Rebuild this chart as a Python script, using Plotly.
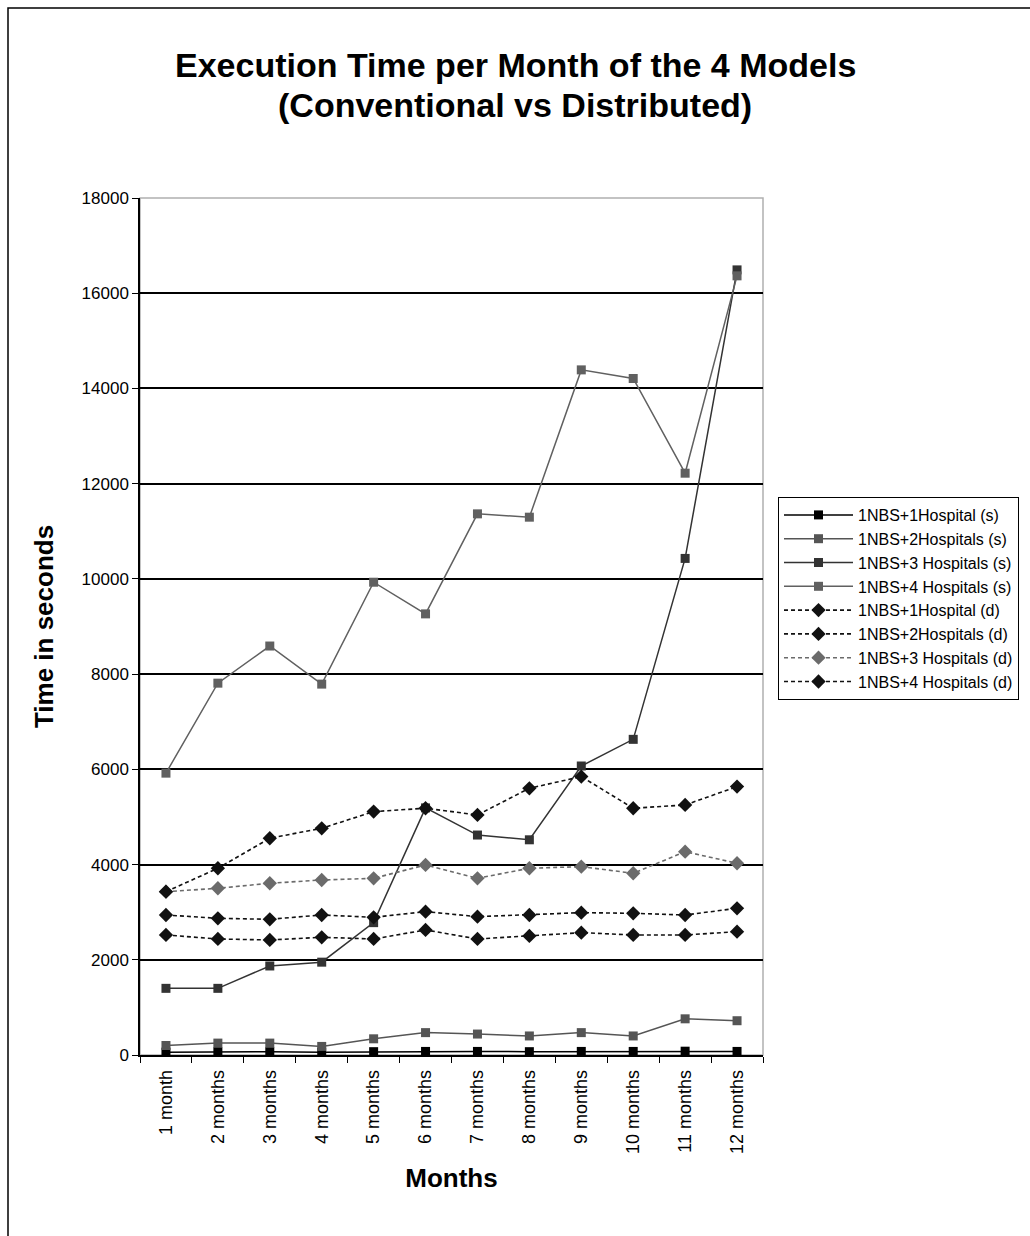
import plotly.graph_objects as go

months = ["1 month", "2 months", "3 months", "4 months", "5 months", "6 months",
          "7 months", "8 months", "9 months", "10 months", "11 months", "12 months"]

s1 = [60, 70, 70, 60, 70, 75, 75, 70, 75, 75, 80, 75]
s2 = [200, 250, 250, 180, 340, 470, 440, 400, 470, 400, 760, 720]
s3 = [1400, 1400, 1870, 1950, 2780, 5190, 4620, 4520, 6070, 6630, 10430, 16490]
s4 = [5920, 7810, 8590, 7790, 9930, 9265, 11366, 11296, 14390, 14209, 12220, 16365]
d1 = [2521, 2437, 2416, 2472, 2437, 2626, 2437, 2500, 2570, 2521, 2521, 2590]
d2 = [2941, 2871, 2850, 2941, 2892, 3011, 2906, 2941, 2990, 2976, 2941, 3081]
d3 = [3430, 3502, 3607, 3676, 3711, 3992, 3711, 3922, 3956, 3817, 4271, 4027]
d4 = [3430, 3922, 4552, 4762, 5112, 5183, 5042, 5602, 5847, 5183, 5252, 5637]

names = ["1NBS+1Hospital (s)", "1NBS+2Hospitals (s)", "1NBS+3 Hospitals (s)", "1NBS+4 Hospitals (s)",
         "1NBS+1Hospital (d)", "1NBS+2Hospitals (d)", "1NBS+3 Hospitals (d)", "1NBS+4 Hospitals (d)"]
series = [s1, s2, s3, s4, d1, d2, d3, d4]
colors = ["#000000", "#555555", "#333333", "#606060", "#111111", "#111111", "#6b6b6b", "#111111"]

title_lines = ["Execution Time per Month of the 4 Models", "(Conventional vs Distributed)"]

fig = go.Figure()
for i, (nm, vals, c) in enumerate(zip(names, series, colors)):
    solid = i < 4
    fig.add_trace(go.Scatter(
        x=months, y=vals, name=nm, mode="lines+markers",
        line=dict(color=c, width=1.5 if solid else 1.6, dash="solid" if solid else "4px,3px"),
        marker=dict(symbol="square" if solid else "diamond", size=9 if solid else 11,
                    color=c, line=dict(width=0)),
    ))

L, R, T, B = 140, 763, 198, 1055
W, H = 1030, 1236
pw, ph = R - L, B - T

def px_x(x):
    return (x - L) / pw

def px_y(y):
    return (B - y) / ph

FONT = "Liberation Sans, Arial, sans-serif"

annotations = []
for line, yc in zip(title_lines, [65, 105]):
    annotations.append(dict(
        text="<b>" + line + "</b>", xref="paper", yref="paper",
        x=px_x(515), y=px_y(yc), xanchor="center", yanchor="middle",
        showarrow=False, font=dict(size=34, family=FONT, color="black"),
    ))

fig.update_layout(
    width=W, height=H,
    margin=dict(l=L, r=W - R, t=T, b=H - B, autoexpand=False),
    paper_bgcolor="white", plot_bgcolor="white",
    font=dict(family=FONT, color="black", size=17),
    annotations=annotations,
    showlegend=True,
    legend=dict(x=px_x(778), y=px_y(497), xanchor="left", yanchor="top",
                bgcolor="white", bordercolor="black", borderwidth=1,
                font=dict(size=16), tracegroupgap=0, itemwidth=69),
    xaxis=dict(
        type="category", showgrid=False, showline=True, linecolor="black", linewidth=1.5,
        ticks="outside", tickson="boundaries", ticklen=6, tickcolor="black",
        tickangle=-90, tickfont=dict(size=18), ticklabelstandoff=6,
        title=dict(text="<b>Months</b>", font=dict(size=26), standoff=16),
        range=[-0.5, 11.5],
    ),
    yaxis=dict(
        range=[0, 18000], dtick=2000, tickformat="d", showgrid=True, gridcolor="black", gridwidth=1.5,
        showline=True, linecolor="black", linewidth=1.5, ticks="outside", ticklen=6,
        tickcolor="black", tickfont=dict(size=17), zeroline=False,
        title=dict(text="<b>Time in seconds</b>", font=dict(size=26), standoff=20),
    ),
    shapes=[
        dict(type="rect", xref="paper", yref="paper", x0=0, x1=1, y0=0, y1=1,
             line=dict(color="#b0b0b0", width=1.5), layer="below"),
        dict(type="rect", xref="paper", yref="paper",
             x0=px_x(8), x1=px_x(1040), y0=px_y(1245), y1=px_y(8),
             line=dict(color="black", width=1.5)),
    ],
)

fig.write_html("out.html", config={"displayModeBar": False},
               post_script="document.body.style.margin='0';document.body.style.overflow='hidden';")
